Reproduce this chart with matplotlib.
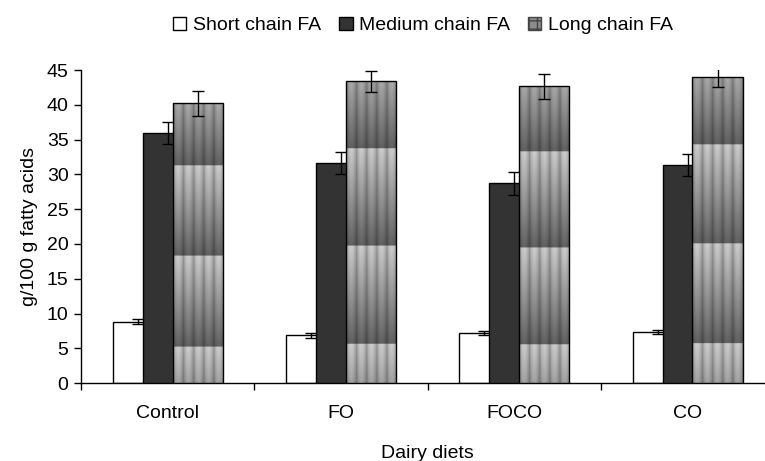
import numpy as np
import matplotlib
matplotlib.use('Agg')
import matplotlib.pyplot as plt
from matplotlib.patches import Patch

plt.rcParams['font.family'] = ['Liberation Sans', 'DejaVu Sans']
plt.rcParams['font.size'] = 14

diets = ['Control', 'FO', 'FOCO', 'CO']
short_fa = [8.8, 6.9, 7.2, 7.3]
short_err = [0.35, 0.35, 0.35, 0.3]
medium_fa = [36.0, 31.6, 28.7, 31.3]
medium_err = [1.6, 1.6, 1.6, 1.6]
long_fa = [40.2, 43.4, 42.7, 44.0]
long_err = [1.8, 1.5, 1.8, 1.5]


def texture(h, nx=100, ny=400):
    # excel-like striped gradient fill, tiles light at top -> dark at bottom
    p = h / 3.08
    y = np.linspace(h, 0, ny)[:, None]
    u = ((y - 0.4 * p) / p) % 1.0
    grad = 0.36 + 0.40 * u
    xs = np.linspace(0, 1, nx)[None, :]
    ph = (xs * 5) % 1.0
    stripe = 0.80 + 0.26 * np.sin(np.pi * ph) - 0.08 * (ph < 0.1)
    v = np.clip(grad * stripe, 0, 1)
    return np.dstack([v, v, v])


fig = plt.figure(figsize=(7.65, 4.61), dpi=100)
ax = fig.add_axes([0.106, 0.169, 0.906, 0.679])

x = np.arange(len(diets))
w = 0.289
step = 0.173

b1 = ax.bar(x - step, short_fa, w, color='white', edgecolor='black', linewidth=1, zorder=2)
ax.errorbar(x - step, short_fa, yerr=short_err, fmt='none', ecolor='black',
            elinewidth=1, capsize=4, capthick=1, zorder=2.1)
b2 = ax.bar(x, medium_fa, w, color='#333333', edgecolor='black', linewidth=1, zorder=3)
ax.errorbar(x, medium_fa, yerr=medium_err, fmt='none', ecolor='black',
            elinewidth=1, capsize=4, capthick=1, zorder=3.1)
b3 = ax.bar(x + step, long_fa, w, facecolor='none', edgecolor='black', linewidth=1, zorder=4.1)
for xi, h, rect in zip(x + step, long_fa, b3):
    im = ax.imshow(texture(h), extent=(xi - w / 2, xi + w / 2, 0, h),
                   aspect='auto', interpolation='bilinear', zorder=4)
    im.set_clip_path(rect)
ax.errorbar(x + step, long_fa, yerr=long_err, fmt='none', ecolor='black',
            elinewidth=1, capsize=4, capthick=1, zorder=4.2)

ax.set_xlim(-0.5, len(diets) - 0.5)
ax.set_ylim(0, 45)
ax.set_yticks(np.arange(0, 46, 5))
ax.set_xticks(x)
ax.set_xticklabels(diets)
ax.set_xticks(np.arange(-0.5, len(diets), 1), minor=True)
ax.tick_params(axis='x', which='major', length=0, pad=16)
ax.tick_params(axis='x', which='minor', length=5, direction='out', width=1)
ax.tick_params(axis='y', length=5, direction='out', width=1, pad=4)
for s in ['top', 'right']:
    ax.spines[s].set_visible(False)
for s in ['left', 'bottom']:
    ax.spines[s].set_linewidth(1)

ax.set_ylabel('g/100 g fatty acids', labelpad=6)
ax.set_xlabel('Dairy diets', labelpad=16)

handles = [Patch(facecolor='white', edgecolor='black', label='Short chain FA'),
           Patch(facecolor='#333333', edgecolor='black', label='Medium chain FA'),
           Patch(facecolor='#8c8c8c', edgecolor='#444444', hatch='++', label='Long chain FA')]
fig.legend(handles=handles, loc='center', bbox_to_anchor=(0.553, 0.945), ncol=3,
           frameon=False, handlelength=0.7, handleheight=0.7, handletextpad=0.35,
           columnspacing=0.9)

fig.savefig('out.png', dpi=100)
